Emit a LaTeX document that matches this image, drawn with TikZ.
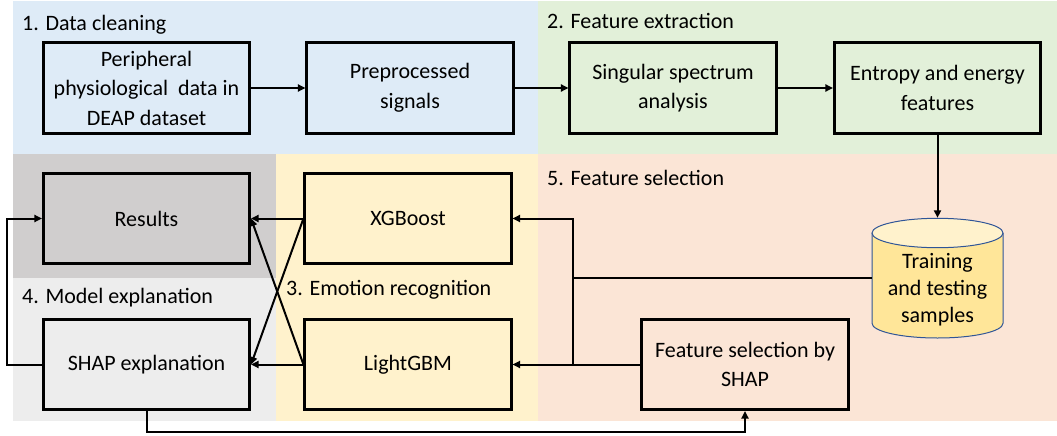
\documentclass[tikz,border=0pt]{standalone}
\usepackage{fontspec}
\setmainfont{Carlito}
\usetikzlibrary{arrows.meta}
\definecolor{rblue}{HTML}{DEEBF7}
\definecolor{rgreen}{HTML}{E2F0D9}
\definecolor{rdgray}{HTML}{D0CECE}
\definecolor{rlgray}{HTML}{EDEDED}
\definecolor{ryellow}{HTML}{FFF2CC}
\definecolor{rsalmon}{HTML}{FBE5D6}
\definecolor{cylbody}{HTML}{FFE699}
\definecolor{cyltop}{HTML}{FFF2CC}
\definecolor{cylline}{HTML}{2F5597}
\newcommand\bxfont{\fontsize{22}{29.5}\selectfont}
\newcommand\cyfont{\fontsize{22}{27}\selectfont}
\begin{document}
\begin{tikzpicture}[x=1pt,y=-1pt,
  stagebox/.style={draw=black, line width=2.6pt, minimum width=206.5pt, minimum height=90.5pt, inner sep=0pt, align=center, font=\bxfont},
  conn/.style={line width=2pt, -{Triangle[length=7.5pt,width=7pt]}},
  plainline/.style={line width=2pt},
  lbl/.style={anchor=base west, inner sep=0pt, font=\bxfont}]
\useasboundingbox (0,0) rectangle (1057,436);
\fill[white] (0,0) rectangle (1057,436);
% regions
\fill[rblue] (13,1) rectangle (538,154);
\fill[rgreen] (538,1) rectangle (1057,154);
\fill[rdgray] (13,154) rectangle (276,278);
\fill[rlgray] (13,278) rectangle (276,421);
\fill[ryellow] (276,154) rectangle (538,421);
\fill[rsalmon] (538,154) rectangle (1057,421);
% region labels
\node[lbl] (l1) at (22,31) {1. Data cleaning};
\node[lbl] (l2) at (547,29) {2. Feature extraction};
\node[lbl] (l5) at (547,185) {5. Feature selection};
\node[lbl] (l3) at (286,295) {3. Emotion recognition};
\node[lbl] (l4) at (22,303) {4. Model explanation};
% boxes
\node[stagebox] (P) at (146.5,88) {Peripheral\\physiological\ \ data in\\DEAP dataset};
\node[stagebox] (Pre) at (410,88) {Preprocessed\\signals};
\node[stagebox] (SSA) at (673,88) {Singular spectrum\\analysis};
\node[stagebox] (Ent) at (937.5,88) {Entropy and energy\\features};
\node[stagebox] (Res) at (146.5,218.5) {Results};
\node[stagebox] (XGB) at (408,218.5) {XGBoost};
\node[stagebox] (SHAP) at (146.5,364.5) {SHAP explanation};
\node[stagebox] (LGBM) at (408,364.5) {LightGBM};
\node[stagebox] (FS) at (745,364.5) {Feature selection by\\SHAP};
% cylinder
\fill[cylbody] (872,233) rectangle (1003,323.3);
\fill[cylbody] (937.5,323.3) ellipse [x radius=65.5pt, y radius=14.7pt];
\draw[cylline, line width=1pt] (872,233) -- (872,323.3) arc[start angle=180, end angle=360, x radius=65.5pt, y radius=14.7pt] -- (1003,233);
\filldraw[fill=cyltop, draw=cylline, line width=1pt] (937.5,233) ellipse [x radius=65.5pt, y radius=14.7pt];
\node[minimum width=131pt, minimum height=120pt, inner sep=0pt] (cyl) at (937.5,278) {};
\node[align=center, font=\cyfont, inner sep=0pt] (cyltext) at (937.5,290) {Training\\and testing\\samples};
% connectors
\draw[conn] (P) -- (Pre);
\draw[conn] (Pre) -- (SSA);
\draw[conn] (SSA) -- (Ent);
\draw[conn] (Ent) -- (cyl);
\coordinate (j1) at (573,278);
\draw[conn] (cyl.west) -- (j1) |- (XGB.east);
\draw[conn] (FS.west) -- (LGBM.east);
\draw[plainline] (j1) -- (j1 |- FS.west);
\draw[conn] (XGB.west) -- (Res.east);
\draw[conn] (LGBM.west) -- (SHAP.east);
\draw[conn] (XGB.west) -- (SHAP.east);
\draw[conn] (LGBM.west) -- (Res.east);
\coordinate (lft) at (6.7,0);
\draw[conn] (SHAP.west) -- (SHAP.west -| lft) |- (Res.west);
\coordinate (bot) at (0,432);
\draw[conn] (SHAP.south) -- (SHAP.south |- bot) -| (FS.south);
\end{tikzpicture}
\end{document}
